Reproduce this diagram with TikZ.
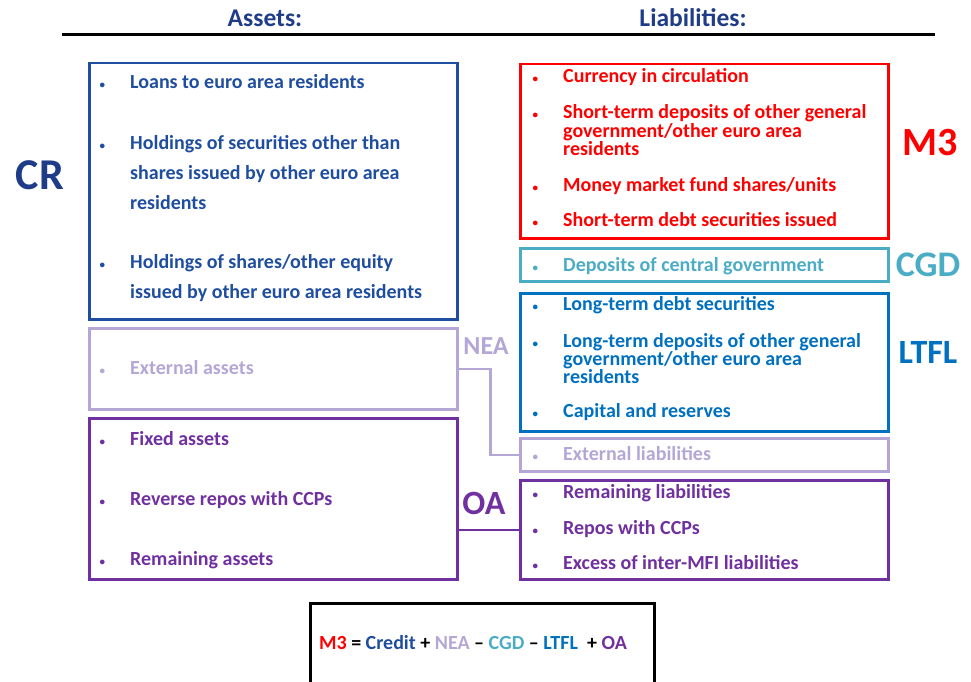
\documentclass[tikz,border=0pt]{standalone}
\usepackage{fontspec}
\setmainfont{Carlito}
\usetikzlibrary{positioning}
\definecolor{crblue}{RGB}{31,78,160}
\definecolor{mred}{RGB}{255,0,0}
\definecolor{cgdteal}{RGB}{75,172,198}
\definecolor{ltflblue}{RGB}{0,112,192}
\definecolor{nealav}{RGB}{180,167,214}
\definecolor{oapurple}{RGB}{112,48,160}
\definecolor{headblue}{RGB}{31,60,136}
\newcommand{\bul}{\llap{{\fontsize{11}{11}\selectfont\textbullet}\hspace{25pt}}}

\begin{document}
\begin{tikzpicture}[x=1pt, y=-1pt,
    box/.style={draw, line width=2.5pt, anchor=north west, minimum width=368pt, inner sep=0pt},
    wide/.style={anchor=base west, inner sep=0pt, align=left, font=\bfseries\fontsize{20}{30}\selectfont},
    tight/.style={anchor=base west, inner sep=0pt, align=left, font=\bfseries\fontsize{20}{18}\selectfont},
    tag/.style={inner sep=0pt, font=\bfseries\fontsize{#1}{#1}\selectfont}]
    \useasboundingbox (0,0) rectangle (971,682);

    % Heading
    \node[tag=25.5, headblue] (assets) at (265,18) {Assets:};
    \node[tag=25.5, headblue] (liab) at (693,18) {Liabilities:};
    \draw[line width=3pt] (62,35) -- (935,35);

    % Asset boxes
    \node[box, draw=crblue, minimum height=256pt] (crbox) at (88,62) {};
    \node[box, draw=nealav, minimum height=81pt] (neabox) at (88,327) {};
    \node[box, draw=oapurple, minimum height=161pt] (oabox) at (88,417) {};

    % Liability boxes
    \node[box, draw=mred, minimum height=174pt] (mbox) at (519,63) {};
    \node[box, draw=cgdteal, minimum height=33pt] (cgdbox) at (519,247) {};
    \node[box, draw=ltflblue, minimum height=138pt] (ltflbox) at (519,292) {};
    \node[box, draw=nealav, minimum height=33pt] (extbox) at (519,437) {};
    \node[box, draw=oapurple, minimum height=99pt] (oalbox) at (519,479) {};

    % Asset items (multi-line ones sit on their last line)
    \node[wide, crblue] (cr1) at (130,89) {\bul Loans to euro area residents};
    \node[wide, crblue] (cr2) at (130,209) {\bul Holdings of securities other than\\shares issued by other euro area\\residents};
    \node[wide, crblue] (cr3) at (130,298) {\bul Holdings of shares/other equity\\issued by other euro area residents};
    \node[wide, nealav] (nea1) at (130,374) {\bul External assets};
    \node[wide, oapurple] (oa1) at (130,445) {\bul Fixed assets};
    \node[wide, oapurple] (oa2) at (130,505) {\bul Reverse repos with CCPs};
    \node[wide, oapurple] (oa3) at (130,565) {\bul Remaining assets};

    % Liability items
    \node[tight, mred] (m1) at (563,83) {\bul Currency in circulation};
    \node[tight, mred] (m2) at (563,155) {\bul Short-term deposits of other general\\government/other euro area\\residents};
    \node[tight, mred] (m3) at (563,191) {\bul Money market fund shares/units};
    \node[tight, mred] (m4) at (563,226) {\bul Short-term debt securities issued};
    \node[tight, cgdteal] (cgd1) at (563,271) {\bul Deposits of central government};
    \node[tight, ltflblue] (lt1) at (563,310) {\bul Long-term debt securities};
    \node[tight, ltflblue] (lt2) at (563,383) {\bul Long-term deposits of other general\\government/other euro area\\residents};
    \node[tight, ltflblue] (lt3) at (563,417) {\bul Capital and reserves};
    \node[tight, nealav] (ext1) at (563,460) {\bul External liabilities};
    \node[tight, oapurple] (ol1) at (563,498) {\bul Remaining liabilities};
    \node[tight, oapurple] (ol2) at (563,534) {\bul Repos with CCPs};
    \node[tight, oapurple] (ol3) at (563,569) {\bul Excess of inter-MFI liabilities};

    % Aggregate labels
    \node[tag=44, headblue] (crlab) at (40,175) {CR};
    \node[tag=40, mred] (mlab) at (930,143) {M3};
    \node[tag=36, cgdteal] (cgdlab) at (928,265) {CGD};
    \node[tag=34, ltflblue] (ltfllab) at (928,352) {LTFL};
    \node[tag=26, nealav] (nealab) at (486,346) {NEA};
    \node[tag=34, oapurple] (oalab) at (484,503) {OA};

    % Links
    \draw[nealav, line width=2.5pt] (neabox.east) -- ++(32,0) |- (extbox.west);
    \draw[oapurple, line width=2.5pt] (oalbox.west) -- (oalbox.west -| oabox.east);

    % Identity
    \node[box, draw=black, minimum width=344pt, minimum height=100pt] (idbox) at (309,602) {};
    \node[tag=20] (ident) at (473,643) {\textcolor{mred}{M3} = \textcolor{crblue}{Credit} + \textcolor{nealav}{NEA} -- \textcolor{cgdteal}{CGD} -- \textcolor{ltflblue}{LTFL} ~+ \textcolor{oapurple}{OA}};
\end{tikzpicture}
\end{document}
